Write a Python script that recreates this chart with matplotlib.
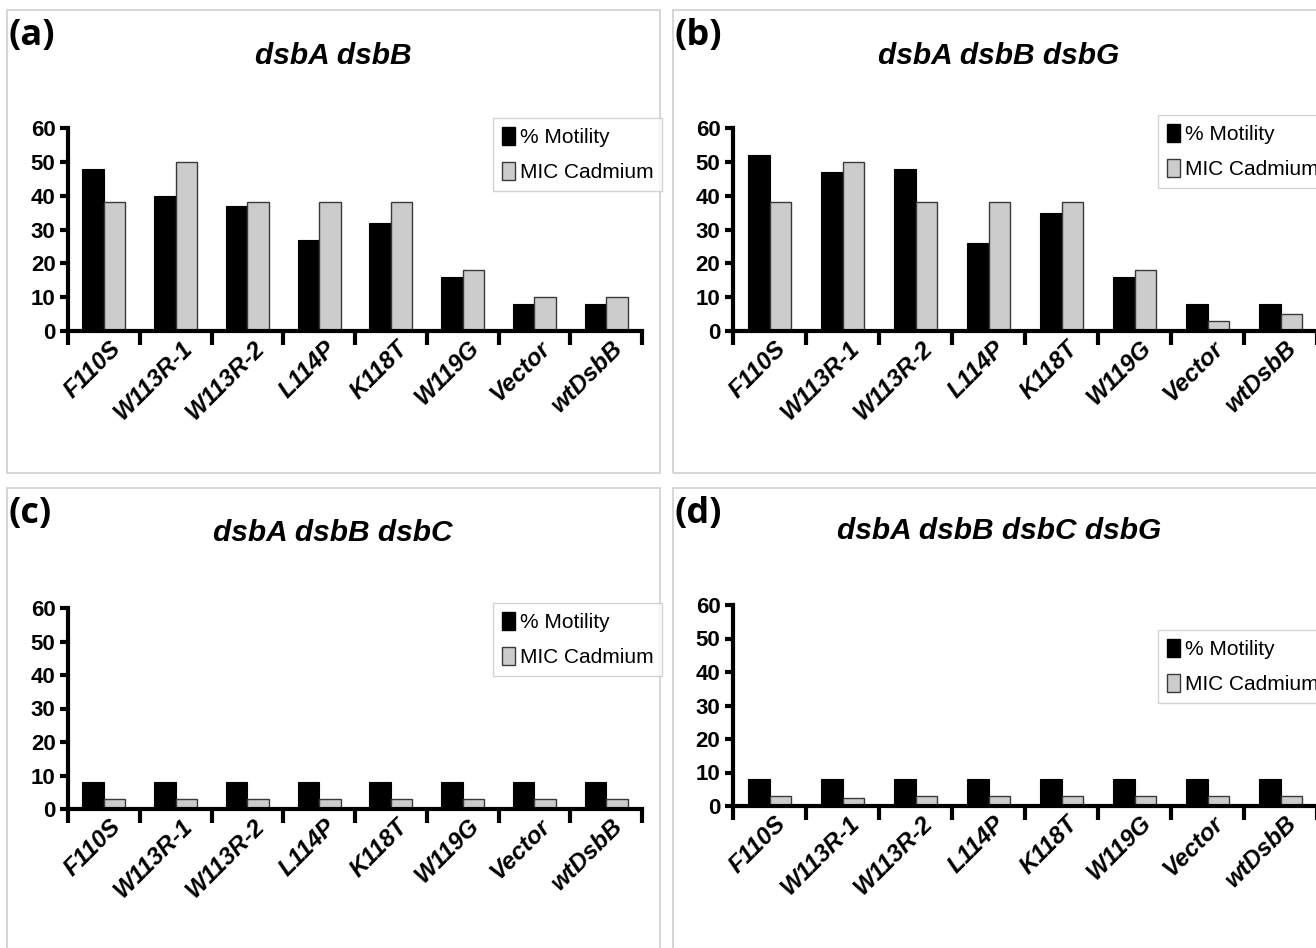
import matplotlib
matplotlib.use("Agg")
import matplotlib.pyplot as plt
from matplotlib.patches import Patch, Rectangle
from matplotlib import font_manager as fm
from matplotlib.transforms import ScaledTranslation
import numpy as np

categories = ["F110S", "W113R-1", "W113R-2", "L114P", "K118T", "W119G", "Vector", "wtDsbB"]
series_names = ["% Motility", "MIC Cadmium"]

motility_a = [48, 40, 37, 27, 32, 16, 8, 8]
cadmium_a = [38, 50, 38, 38, 38, 18, 10, 10]
motility_b = [52, 47, 48, 26, 35, 16, 8, 8]
cadmium_b = [38, 50, 38, 38, 38, 18, 3, 5]
motility_c = [8, 8, 8, 8, 8, 8, 8, 8]
cadmium_c = [3, 3, 3, 3, 3, 3, 3, 3]
motility_d = [8, 8, 8, 8, 8, 8, 8, 8]
cadmium_d = [3, 2.5, 3, 3, 3, 3, 3, 3]

titles = ["dsbA dsbB", "dsbA dsbB dsbG", "dsbA dsbB dsbC", "dsbA dsbB dsbC dsbG"]
panel_letters = ["(a)", "(b)", "(c)", "(d)"]
yticks = [0, 10, 20, 30, 40, 50, 60]

avail = {f.name for f in fm.fontManager.ttflist}
narrow = "Liberation Sans Narrow" if "Liberation Sans Narrow" in avail else "Liberation Sans"

W, H = 1316, 948
fig = plt.figure(figsize=(W / 100, H / 100), dpi=100)
fig.patch.set_facecolor("white")


def rect(left, right, top, bottom):
    return [left / W, 1 - bottom / H, (right - left) / W, (bottom - top) / H]


# panel frames (pixels: left, top, right, bottom)
frames = [(7, 10, 660, 473), (673, 10, 1340, 473), (7, 488, 660, 960), (673, 488, 1340, 960)]
for (l, t, r, b) in frames:
    fig.add_artist(Rectangle((l / W, 1 - b / H), (r - l) / W, (b - t) / H,
                             transform=fig.transFigure, fill=False,
                             edgecolor="#d0d0d0", linewidth=1.2))

axes_px = [(68, 642, 128, 331), (733, 1317, 128, 331), (68, 642, 608, 809), (733, 1317, 605, 806)]
legend_px = [(493, 118), (1158, 115), (493, 603), (1158, 630)]
title_px = [(333, 56), (999, 56), (333, 533), (999, 531)]
letter_px = [(9, 36), (675, 36), (9, 514), (675, 514)]
data = [(motility_a, cadmium_a), (motility_b, cadmium_b), (motility_c, cadmium_c), (motility_d, cadmium_d)]

black = "#000000"
gray = "#cccccc"

for i in range(4):
    l, r, t, b = axes_px[i]
    ax = fig.add_axes(rect(l, r, t, b))
    mot, cad = data[i]
    x = np.arange(len(categories))
    ax.bar(x + 0.35, mot, width=0.3, color=black, edgecolor=black, linewidth=0.8, zorder=2)
    ax.bar(x + 0.65, cad, width=0.3, color=gray, edgecolor="#3a3a3a", linewidth=1.0, zorder=2)
    ax.set_xlim(0, len(categories))
    ax.set_ylim(0, 60)
    for s in ["top", "right"]:
        ax.spines[s].set_visible(False)
    for s in ["left", "bottom"]:
        ax.spines[s].set_linewidth(3)
    ax.set_yticks(yticks)
    ax.set_yticklabels([str(v) for v in yticks], fontfamily=narrow, fontweight="bold", fontsize=16)
    ax.tick_params(axis="y", direction="out", length=6, width=3, pad=3)
    ax.set_xticks(np.arange(len(categories) + 1))
    ax.set_xticklabels([])
    ax.tick_params(axis="x", which="major", direction="out", length=10, width=3)
    ax.set_xticks(x + 0.5, minor=True)
    ax.set_xticklabels(categories, minor=True, rotation=45, ha="right", va="top",
                       rotation_mode="anchor", fontfamily=narrow, fontweight="bold",
                       fontstyle="italic", fontsize=17.5)
    ax.tick_params(axis="x", which="minor", length=0, pad=4)
    off = ScaledTranslation(5 / 100, 0, fig.dpi_scale_trans)
    for lab in ax.get_xticklabels(minor=True):
        lab.set_transform(lab.get_transform() + off)
    ax.patch.set_alpha(0)

    handles = [Patch(facecolor=black, edgecolor=black), Patch(facecolor=gray, edgecolor="#3a3a3a")]
    lx, ly = legend_px[i]
    leg = fig.legend(handles, series_names, loc="upper left",
                     bbox_to_anchor=(lx / W, 1 - ly / H), bbox_transform=fig.transFigure,
                     borderaxespad=0, fancybox=False, frameon=True,
                     prop={"family": narrow, "size": 15},
                     handlelength=0.65, handleheight=1.0, handletextpad=0.22,
                     labelspacing=0.7, borderpad=0.42)
    leg.get_frame().set_edgecolor("#c8c8c8")
    leg.get_frame().set_linewidth(1.0)

    tx, ty = title_px[i]
    fig.text(tx / W, 1 - ty / H, titles[i], ha="center", va="center",
             fontfamily=narrow, fontweight="bold", fontstyle="italic", fontsize=21.5)
    px, py = letter_px[i]
    fig.text(px / W, 1 - py / H, panel_letters[i], ha="left", va="center",
             fontfamily="Open Sans", fontweight="bold", fontsize=26)

fig.savefig("out.png", dpi=100)
